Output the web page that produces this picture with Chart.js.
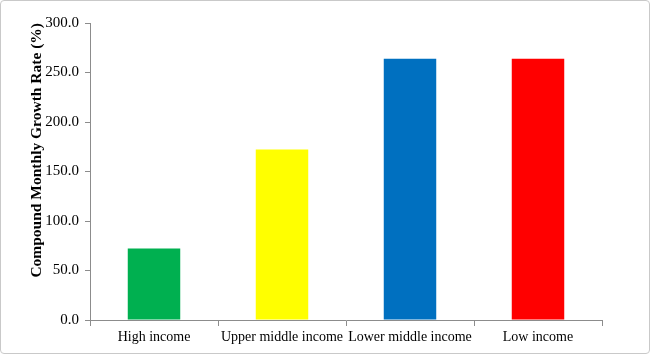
<!DOCTYPE html>
<html>
<head>
<meta charset="utf-8">
<script src="https://cdn.jsdelivr.net/npm/chart.js@4"></script>
<style>
  html, body { margin: 0; padding: 0; background: #fff; }
  .chart-frame {
    width: 650px; height: 354px; box-sizing: border-box;
    border: 1px solid #c9c9c9; border-radius: 4px; overflow: hidden;
  }
  canvas { display: block; }
</style>
</head>
<body>
<div class="chart-frame">
  <canvas id="myChart" width="648" height="352"></canvas>
</div>
<script>
const categories = ['High income', 'Upper middle income', 'Lower middle income', 'Low income'];
const growthRates = [72.3, 172.3, 263.8, 263.8];
const barColors = ['#00B050', '#FFFF00', '#0070C0', '#FF0000'];
const yTicks = [0, 50, 100, 150, 200, 250, 300];

const axisGray = '#8c8c8c';
const serif = "'Liberation Serif', 'Times New Roman', serif";

const config = {
  type: 'bar',
  data: {
    labels: categories,
    datasets: [{
      label: 'Compound Monthly Growth Rate (%)',
      data: growthRates,
      backgroundColor: barColors,
      borderWidth: 0,
      categoryPercentage: 1.0,
      barPercentage: 0.41
    }]
  },
  options: {
    responsive: false,
    animation: false,
    layout: { padding: { left: 0, right: 47, top: 22, bottom: 0 } },
    plugins: {
      legend: { display: false },
      tooltip: { enabled: false }
    },
    scales: {
      x: {
        grid: {
          offset: true,
          drawOnChartArea: false,
          drawTicks: true,
          tickLength: 6,
          color: axisGray
        },
        border: { color: axisGray, width: 1 },
        ticks: {
          color: '#000',
          padding: 3,
          maxRotation: 0,
          autoSkip: false,
          font: { family: serif, size: 14 }
        },
        afterFit: (scale) => { scale.height = 33; }
      },
      y: {
        min: 0,
        max: 300,
        afterBuildTicks: (scale) => { scale.ticks = yTicks.map(v => ({ value: v })); },
        grid: {
          drawOnChartArea: false,
          drawTicks: true,
          tickLength: 5,
          color: axisGray
        },
        border: { color: axisGray, width: 1 },
        ticks: {
          color: '#000',
          padding: 6,
          font: { family: serif, size: 15 },
          callback: (value) => Number(value).toFixed(1)
        },
        title: {
          display: true,
          text: 'Compound Monthly Growth Rate (%)',
          align: 'end',
          color: '#000',
          // padding.top pushes the rotated title away from the left edge
          padding: { top: 27, bottom: 0 },
          font: { family: serif, size: 15.5, weight: 'bold' }
        },
        afterFit: (scale) => { scale.width = 89; }
      }
    }
  }
};

const myChart = new Chart('myChart', config);
</script>
</body>
</html>
